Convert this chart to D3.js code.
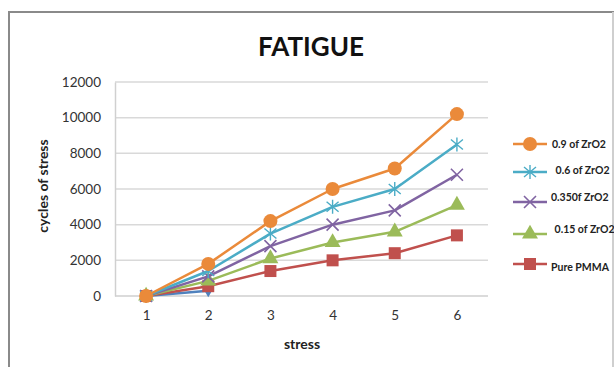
<!DOCTYPE html>
<html>
<head>
<meta charset="utf-8">
<script src="https://cdn.jsdelivr.net/npm/d3@7"></script>
<style>
  html, body { margin: 0; padding: 0; background: #fff; }
  svg { display: block; }
  text { font-family: Lato, "Open Sans", sans-serif; }
</style>
</head>
<body>
<svg id="chart" width="614" height="367"></svg>
<script>
// Fatigue test: cycles of stress per stress level, by ZrO2 content
const stressLevels = [1, 2, 3, 4, 5, 6];
const yTicks = [0, 2000, 4000, 6000, 8000, 10000, 12000];

const zr09  = [0, 1800, 4200, 6000, 7150, 10200];
const zr06  = [0, 1400, 3500, 5000, 6000, 8500];
const zr035 = [0, 1100, 2800, 4000, 4800, 6800];
const zr015 = [0, 850, 2100, 3000, 3600, 5100];
const purePMMA = [0, 550, 1400, 2000, 2400, 3400];
const extraSeries = [0, 300];

const seriesNames = ["0.9 of ZrO2", " 0.6 of ZrO2", "0.350f ZrO2", " 0.15 of ZrO2", "Pure PMMA"];

const series = [
  { name: null,           values: extraSeries, color: "#4F81BD", marker: "diamond" },
  { name: seriesNames[4], values: purePMMA,    color: "#C0504D", marker: "square" },
  { name: seriesNames[3], values: zr015,       color: "#9BBB59", marker: "triangle" },
  { name: seriesNames[2], values: zr035,       color: "#8064A2", marker: "x" },
  { name: seriesNames[1], values: zr06,        color: "#4BACC6", marker: "star" },
  { name: seriesNames[0], values: zr09,        color: "#EA8A3A", marker: "circle" }
];

const svg = d3.select("#chart");

// chart frame
svg.append("rect").attr("x", 9).attr("y", 12).attr("width", 604).attr("height", 370)
  .attr("fill", "#fff").attr("stroke", "#8a8a8a").attr("stroke-width", 2);
svg.append("line").attr("x1", 613).attr("x2", 613).attr("y1", 12).attr("y2", 367)
  .attr("stroke", "#e6e6e6").attr("stroke-width", 1.5);

const plot = { left: 115, right: 488, top: 82, bottom: 296 };

const x = d3.scalePoint().domain(stressLevels).range([plot.left, plot.right]).padding(0.5);
const y = d3.scaleLinear().domain([0, 12000]).range([plot.bottom, plot.top]);

// gridlines
svg.append("g").selectAll("line").data(yTicks.filter(d => d > 0)).join("line")
  .attr("x1", plot.left).attr("x2", plot.right)
  .attr("y1", d => y(d)).attr("y2", d => y(d))
  .attr("stroke", "#d9d9d9").attr("stroke-width", 1.5);

// axes
const yAxis = svg.append("g").attr("transform", `translate(${plot.left},0)`)
  .call(d3.axisLeft(y).tickValues(yTicks).tickFormat(d3.format("d")).tickSize(0).tickPadding(14));
yAxis.select(".domain").attr("stroke", "#d0d0d0").attr("stroke-width", 1.5);
yAxis.selectAll("text").attr("font-size", 13.5).attr("fill", "#333");

const xAxis = svg.append("g").attr("transform", `translate(0,${plot.bottom})`)
  .call(d3.axisBottom(x).tickSize(0).tickPadding(14));
xAxis.select(".domain").attr("d", `M${plot.left},0H${plot.right}`)
  .attr("stroke", "#cfcfcf").attr("stroke-width", 1.5);
xAxis.selectAll("text").attr("font-size", 13.5).attr("fill", "#333");

// titles
svg.append("text").attr("x", 311).attr("y", 56).attr("text-anchor", "middle")
  .attr("font-size", 26).attr("font-weight", "bold").attr("fill", "#111").text("FATIGUE");
svg.append("text").attr("x", 302).attr("y", 349).attr("text-anchor", "middle")
  .attr("font-size", 14).attr("font-weight", "bold").attr("fill", "#222").text("stress");
svg.append("text").attr("transform", "translate(48,186) rotate(-90)").attr("text-anchor", "middle")
  .attr("font-size", 14).attr("font-weight", "bold").attr("fill", "#222").text("cycles of stress");

function drawMarker(g, type, color, cx, cy) {
  if (type === "circle") {
    g.append("circle").attr("cx", cx).attr("cy", cy).attr("r", 7).attr("fill", color);
  } else if (type === "square") {
    g.append("rect").attr("x", cx - 6).attr("y", cy - 6).attr("width", 12).attr("height", 12).attr("fill", color);
  } else if (type === "triangle") {
    g.append("path").attr("d", d3.symbol(d3.symbolTriangle, 110)()).attr("transform", `translate(${cx},${cy})`).attr("fill", color);
  } else if (type === "diamond") {
    g.append("path").attr("d", d3.symbol(d3.symbolDiamond, 50)()).attr("transform", `translate(${cx},${cy})`).attr("fill", color);
  } else if (type === "x") {
    g.append("path").attr("d", `M${cx-6},${cy-6}L${cx+6},${cy+6}M${cx-6},${cy+6}L${cx+6},${cy-6}`)
      .attr("stroke", color).attr("stroke-width", 1.6);
  } else if (type === "star") {
    g.append("path").attr("d", `M${cx-6},${cy-5}L${cx+6},${cy+5}M${cx-6},${cy+5}L${cx+6},${cy-5}M${cx},${cy-7}V${cy+7}`)
      .attr("stroke", color).attr("stroke-width", 1.4);
  }
}

const line = d3.line().x((d, i) => x(stressLevels[i])).y(d => y(d));

series.forEach(s => {
  const g = svg.append("g");
  g.append("path").datum(s.values).attr("d", line)
    .attr("fill", "none").attr("stroke", s.color).attr("stroke-width", 2.5).attr("stroke-linejoin", "round");
  s.values.forEach((v, i) => drawMarker(g, s.marker, s.color, x(stressLevels[i]), y(v)));
});

// legend
const legendRows = [
  { s: series[5], ly: 144, tx: 552, ty: 148 },
  { s: series[4], ly: 172, tx: 553, ty: 174 },
  { s: series[3], ly: 202, tx: 551, ty: 201 },
  { s: series[2], ly: 234, tx: 552, ty: 233 },
  { s: series[1], ly: 264, tx: 551, ty: 271 }
];
legendRows.forEach(r => {
  const g = svg.append("g");
  g.append("line").attr("x1", 513).attr("x2", 547).attr("y1", r.ly).attr("y2", r.ly)
    .attr("stroke", r.s.color).attr("stroke-width", 2.5);
  drawMarker(g, r.s.marker, r.s.color, 530, r.ly);
  g.append("text").attr("x", r.tx).attr("y", r.ty).attr("font-size", 10.5).attr("font-weight", "bold")
    .attr("fill", "#222").attr("xml:space", "preserve").style("white-space", "pre").text(r.s.name);
});
</script>
</body>
</html>
